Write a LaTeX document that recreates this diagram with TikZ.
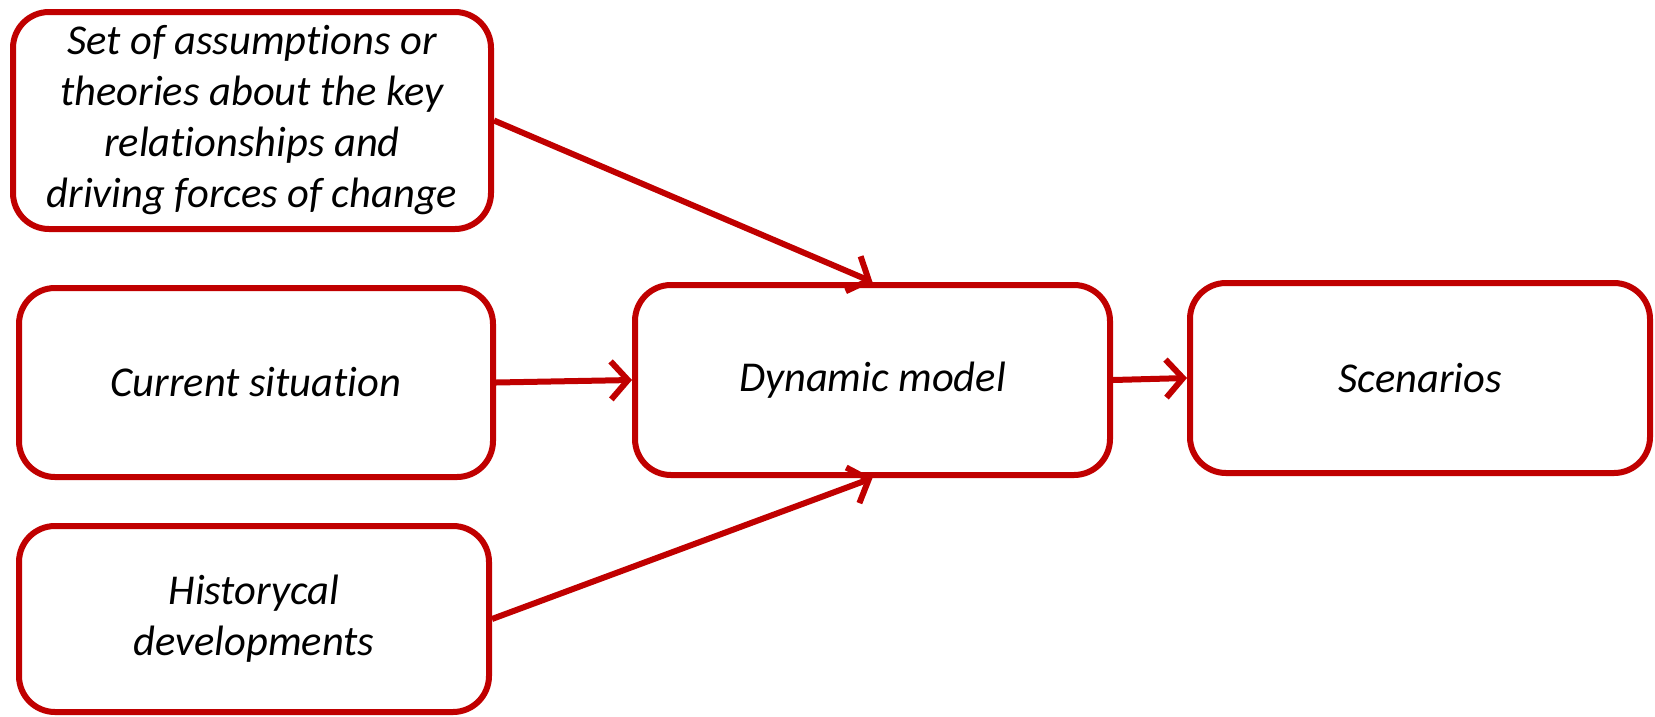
\documentclass[tikz,border=0pt]{standalone}
\usepackage{fontspec}
\setmainfont{Carlito}[Ligatures={NoCommon}]
\usetikzlibrary{arrows.meta}
\definecolor{boxred}{HTML}{C00000}
\begin{document}
\begin{tikzpicture}[x=1pt,y=-1pt,
  box/.style={draw=boxred, line width=6pt, rounded corners=36pt, fill=white,
    align=center, inner sep=0pt, font=\fontsize{42.5}{51}\selectfont\itshape},
  conn/.style={draw=boxred, line width=6pt,
    -{Straight Barb[length=17pt,width=38pt,line width=6pt]}}]
\useasboundingbox (0,0) rectangle (1655,716);
\node[box, minimum width=478pt, minimum height=217pt] (b1) at (252,120.5)
  {Set of assumptions or\\theories about the key\\relationships and\\driving forces of change};
\node[box, minimum width=474pt, minimum height=189pt] (b2) at (256,382.5) {Current situation};
\node[box, minimum width=470pt, minimum height=186pt] (b3) at (254,619) {Historycal\\developments};
\node[box, minimum width=475pt, minimum height=190pt] (dyn) at (872.5,380) {Dynamic model};
\node[box, minimum width=460pt, minimum height=190pt] (scen) at (1420,378) {Scenarios};
\draw[conn] (b1.east) -- (dyn.north);
\draw[conn] (b2.east) -- (dyn.west);
\draw[conn] (b3.east) -- (dyn.south);
\draw[conn] (dyn.east) -- (scen.west);
\end{tikzpicture}
\end{document}
